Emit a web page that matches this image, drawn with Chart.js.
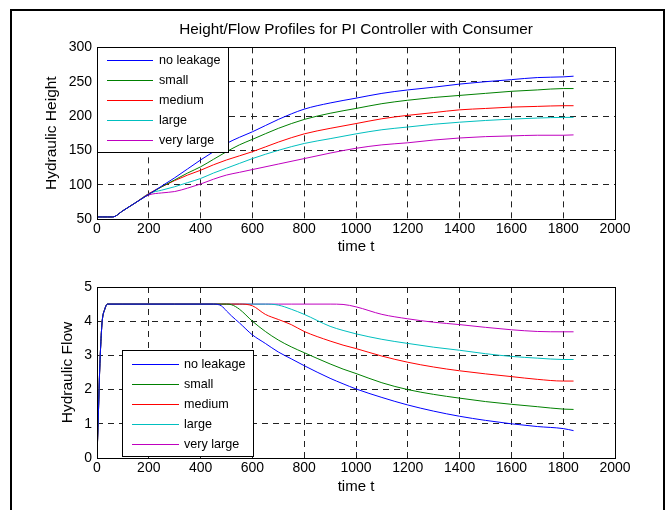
<!DOCTYPE html>
<html>
<head>
<meta charset="utf-8">
<script src="https://cdn.jsdelivr.net/npm/chart.js@4.4.1/dist/chart.umd.min.js"></script>
<style>
  body { margin: 0; background: #fff; }
  #page { position: relative; width: 671px; height: 510px; overflow: hidden; background: #fff; }
  #frame { position: absolute; left: 10px; top: 9px; width: 651px; height: 530px; border: 2px solid #000; border-bottom: none; }
  canvas { position: absolute; left: 0; }
</style>
</head>
<body>
<div id="page">
  <div id="frame"></div>
  <canvas id="heightChart" width="671" height="260" style="top:0"></canvas>
  <canvas id="flowChart" width="671" height="250" style="top:260px"></canvas>
</div>
<script>
// series names, shared by both plots
const seriesNames = ['no leakage', 'small', 'medium', 'large', 'very large'];

// upper plot: hydraulic height over time
const heightTimes = [0, 20, 40, 60, 100, 150, 200, 250, 300, 350, 400, 450, 500, 550, 600, 700, 800, 900, 1000, 1100, 1200, 1300, 1400, 1500, 1600, 1700, 1800, 1840];
const heightNoLeak = [53, 53, 53, 53, 62, 74, 86, 98, 110, 123, 136, 148, 160, 169, 177, 195, 210, 219, 226, 233, 238, 242, 246.5, 250, 253, 256, 257, 258];
const heightSmall = [53, 53, 53, 53, 62, 74, 86, 97, 107, 117, 126, 137, 148, 158, 166, 182, 195, 204, 211, 218, 223, 227, 230, 233, 236, 238, 240, 240];
const heightMedium = [53, 53, 53, 53, 62, 74, 87, 97, 106, 114, 121, 129, 136, 142, 148, 162, 174, 182, 189, 196, 201, 205, 209, 211, 213, 214, 215, 215];
const heightLarge = [53, 53, 53, 53, 62, 74, 87, 92, 97, 103, 109, 117, 124, 131, 138, 150, 160, 167, 174, 180, 184, 188, 191, 193.5, 195.5, 197, 198, 198];
const heightVeryLarge = [53, 53, 53, 53, 62, 74, 85, 88, 90, 95, 101, 108, 114, 118, 122, 130, 138, 146, 153, 158, 161, 165, 168, 170, 171, 172, 172, 172.5];

// lower plot: hydraulic flow over time
const flowTimes = [0, 5, 10, 15, 20, 30, 40, 100, 200, 300, 400, 450, 480, 500, 520, 550, 600, 650, 700, 750, 800, 900, 950, 1000, 1100, 1200, 1300, 1400, 1500, 1600, 1700, 1800, 1840];
const flowNoLeak = [0, 1.2, 2.5, 3.4, 4.0, 4.35, 4.5, 4.5, 4.5, 4.5, 4.5, 4.5, 4.45, 4.3, 4.15, 3.95, 3.6, 3.35, 3.1, 2.9, 2.7, 2.33, 2.17, 2.02, 1.77, 1.55, 1.37, 1.22, 1.1, 1.0, 0.92, 0.86, 0.8];
const flowSmall = [0, 1.2, 2.5, 3.4, 4.0, 4.35, 4.5, 4.5, 4.5, 4.5, 4.5, 4.5, 4.5, 4.5, 4.48, 4.35, 4.0, 3.7, 3.45, 3.25, 3.08, 2.75, 2.6, 2.47, 2.2, 2.0, 1.86, 1.75, 1.65, 1.57, 1.5, 1.43, 1.42];
const flowMedium = [0, 1.2, 2.5, 3.4, 4.0, 4.35, 4.5, 4.5, 4.5, 4.5, 4.5, 4.5, 4.5, 4.5, 4.5, 4.5, 4.45, 4.2, 4.05, 3.9, 3.7, 3.42, 3.3, 3.2, 2.98, 2.8, 2.66, 2.55, 2.46, 2.38, 2.3, 2.25, 2.25];
const flowLarge = [0, 1.2, 2.5, 3.4, 4.0, 4.35, 4.5, 4.5, 4.5, 4.5, 4.5, 4.5, 4.5, 4.5, 4.5, 4.5, 4.5, 4.5, 4.47, 4.35, 4.2, 3.85, 3.73, 3.63, 3.47, 3.35, 3.24, 3.15, 3.05, 2.97, 2.92, 2.88, 2.88];
const flowVeryLarge = [0, 1.2, 2.5, 3.4, 4.0, 4.35, 4.5, 4.5, 4.5, 4.5, 4.5, 4.5, 4.5, 4.5, 4.5, 4.5, 4.5, 4.5, 4.5, 4.5, 4.5, 4.5, 4.49, 4.42, 4.2, 4.07, 3.97, 3.9, 3.82, 3.75, 3.7, 3.69, 3.69];

// matlab default line colours
const seriesColors = ['#0000ff', '#008000', '#ff0000', '#00bfbf', '#bf00bf'];

const fontFamily = "'Liberation Sans', Arial, Helvetica, sans-serif";
Chart.defaults.font.family = fontFamily;
Chart.defaults.font.size = 14;
Chart.defaults.color = '#000';

// solid box round the axes, like matlab's "box on"
const axesBox = {
  id: 'axesBox',
  afterDatasetsDraw(chart) {
    const { ctx, chartArea: a } = chart;
    ctx.save();
    ctx.strokeStyle = '#000';
    ctx.lineWidth = 1;
    ctx.setLineDash([]);
    ctx.strokeRect(Math.round(a.left) + 0.5, Math.round(a.top) + 0.5, Math.round(a.right - a.left), Math.round(a.bottom - a.top));
    ctx.restore();
  }
};

// boxed legend drawn inside the plot
const legendBox = {
  id: 'legendBox',
  afterDraw(chart, args, o) {
    const ctx = chart.ctx;
    const bx = o.x, by = o.y, bw = o.w, bh = o.h;
    ctx.save();
    ctx.setLineDash([]);
    ctx.fillStyle = '#fff';
    ctx.fillRect(bx, by, bw, bh);
    ctx.strokeStyle = '#000';
    ctx.lineWidth = 1;
    ctx.strokeRect(bx + 0.5, by + 0.5, bw, bh);
    ctx.font = '12.6px ' + fontFamily;
    ctx.textBaseline = 'middle';
    seriesNames.forEach((name, i) => {
      const y = Math.round(by + o.first + i * o.step);
      ctx.fillStyle = seriesColors[i];
      ctx.fillRect(bx + o.lineStart, y, o.lineEnd - o.lineStart, 1);
      ctx.fillStyle = '#000';
      ctx.fillText(name, bx + o.textStart, y + 0.5);
    });
    ctx.restore();
  }
};

function makeChart(canvasId, times, series, cfg) {
  const datasets = series.map((vals, i) => ({
    label: seriesNames[i],
    data: times.map((t, j) => ({ x: t, y: vals[j] })),
    borderColor: seriesColors[i],
    borderWidth: 1,
    pointRadius: 0,
    cubicInterpolationMode: 'monotone',
    fill: false
  }));

  return new Chart(document.getElementById(canvasId), {
    type: 'line',
    data: { datasets },
    plugins: [axesBox, legendBox],
    options: {
      responsive: false,
      animation: false,
      layout: { padding: { left: 0, right: 56, top: cfg.padTop, bottom: 0 } },
      plugins: {
        legend: { display: false },
        tooltip: { enabled: false },
        title: cfg.title,
        legendBox: cfg.legend
      },
      scales: {
        x: {
          type: 'linear',
          min: 0,
          max: 2000,
          ticks: { stepSize: 200, padding: 2, callback: v => String(v) },
          grid: { color: '#222', lineWidth: 1, drawTicks: false },
          border: { display: false, dash: [6, 5] },
          title: { display: true, text: 'time t', font: { size: 15 }, padding: { top: 0, bottom: cfg.xTitleBottom } },
          afterFit: s => { s.height = cfg.xHeight; }
        },
        y: {
          min: cfg.yMin,
          max: cfg.yMax,
          ticks: { stepSize: cfg.yStep, padding: 5, callback: v => String(v) },
          grid: { color: '#222', lineWidth: 1, drawTicks: false },
          border: { display: false, dash: [6, 5] },
          title: { display: true, text: cfg.yTitle, font: { size: 15.5 }, padding: { top: cfg.yTitleTop, bottom: 0 } },
          afterFit: s => { s.width = 97; }
        }
      }
    }
  });
}

makeChart('heightChart', heightTimes,
  [heightNoLeak, heightSmall, heightMedium, heightLarge, heightVeryLarge], {
    padTop: 0,
    title: { display: true, fullSize: false, text: 'Height/Flow Profiles for PI Controller with Consumer', font: { size: 15.3, weight: 'normal' }, padding: { top: 21, bottom: 8 } },
    legend: { x: 97, y: 47, w: 131, h: 105, first: 12.5, step: 20.2, lineStart: 10, lineEnd: 56, textStart: 62 },
    yMin: 50, yMax: 300, yStep: 50,
    yTitle: 'Hydraulic Height', yTitleTop: 42,
    xHeight: 41, xTitleBottom: 4
  });

makeChart('flowChart', flowTimes,
  [flowNoLeak, flowSmall, flowMedium, flowLarge, flowVeryLarge], {
    padTop: 27,
    title: { display: false },
    legend: { x: 122, y: 90, w: 131, h: 106, first: 14, step: 20, lineStart: 10, lineEnd: 57, textStart: 62 },
    yMin: 0, yMax: 5, yStep: 1,
    yTitle: 'Hydraulic Flow', yTitleTop: 58,
    xHeight: 52, xTitleBottom: 14
  });
</script>
</body>
</html>
